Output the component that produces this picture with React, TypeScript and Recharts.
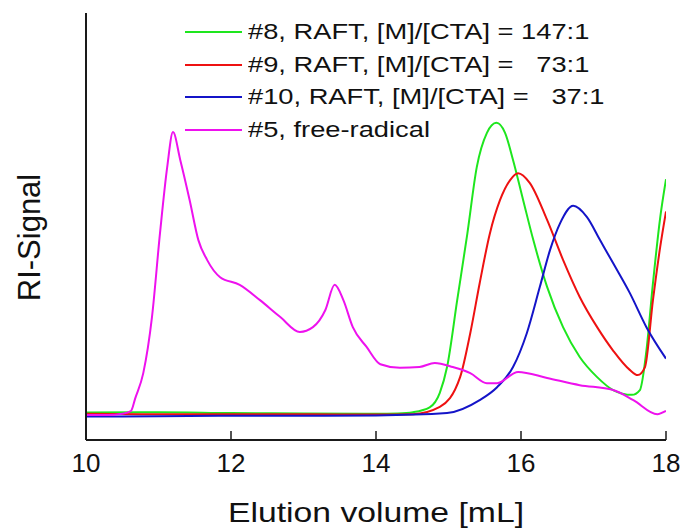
import React from "react";
import { LineChart, Line, XAxis, YAxis, Legend, Label } from "recharts";

type Pt = { x: number; v: number };
const mk = (xs: number[], vs: number[]): Pt[] => xs.map((x, i) => ({ x, v: vs[i] }));

const xTicks = [10, 12, 14, 16, 18];

const names = [
  "#8, RAFT, [M]/[CTA] = 147:1",
  "#9, RAFT, [M]/[CTA] =   73:1",
  "#10, RAFT, [M]/[CTA] =   37:1",
  "#5, free-radical",
];
const colors = ["#1ee61e", "#ee1111", "#1414c8", "#ee11ee"];

const greenX = [10, 11, 12, 13, 14, 14.3, 14.51, 14.74, 14.88, 14.98, 15.12, 15.26, 15.39, 15.53, 15.66, 15.78, 15.89, 16.03, 16.17, 16.36, 16.58, 16.81, 17.05, 17.27, 17.53, 17.64, 17.73, 17.82, 17.92, 18.0];
const greenV = [0.6, 0.7, 0.5, 0.4, 0.3, 0.4, 0.7, 1.9, 5.5, 11.9, 28.5, 45, 61.5, 70, 72.5, 70, 63.3, 53.3, 43.4, 31.8, 21.8, 14.4, 9.4, 6.2, 5, 6.2, 16, 32.7, 49, 58.5];

const redX = [10, 11, 12, 13, 14, 14.51, 14.88, 15.16, 15.3, 15.43, 15.57, 15.71, 15.85, 15.96, 16.12, 16.36, 16.58, 16.81, 17.05, 17.27, 17.5, 17.61, 17.71, 17.82, 17.92, 18.0];
const redV = [0.3, 0.2, 0.2, 0.2, 0.1, 0.2, 2, 9.4, 20.3, 32.7, 45, 53.3, 58.3, 60, 57.6, 48.4, 38.5, 29.3, 21.8, 16, 11.2, 9.9, 11.9, 28.5, 41.7, 50.5];

const blueX = [10, 11, 12, 13, 14, 14.98, 15.43, 15.67, 15.89, 16.08, 16.26, 16.4, 16.54, 16.72, 16.91, 17.09, 17.27, 17.5, 17.73, 18.0];
const blueV = [-0.4, -0.3, -0.2, -0.2, -0.1, 0.5, 3.7, 6.9, 11.9, 20.3, 31.8, 40.9, 47.6, 51.9, 49.1, 43.4, 37.7, 30.3, 21.8, 14];

const magX = [10, 10.3, 10.5, 10.62, 10.68, 10.79, 10.91, 11.02, 11.12, 11.2, 11.3, 11.43, 11.55, 11.67, 11.85, 12.12, 12.4, 12.68, 12.95, 13.13, 13.3, 13.43, 13.55, 13.68, 13.87, 14.06, 14.33, 14.6, 14.81, 15.06, 15.3, 15.53, 15.67, 15.96, 16.36, 16.81, 17.27, 17.55, 17.88, 18.0];
const magV = [0, 0, 0.3, 1.0, 4.2, 10.4, 24.3, 45, 61.5, 70.2, 63.3, 53.3, 43.4, 38.5, 34.2, 32.3, 28.5, 24.3, 20.6, 21.8, 26, 32.3, 28.5, 21.8, 16.9, 12.6, 11.7, 11.9, 12.9, 11.9, 10.4, 7.9, 7.9, 10.7, 9.2, 7.4, 6.2, 3.7, 0.2, 1.0];

const series = [mk(greenX, greenV), mk(redX, redV), mk(blueX, blueV), mk(magX, magV)];

const FONT = "'Liberation Sans', Arial, sans-serif";
const AX = "#1a1a1a";

const LegendContent = (props: any) => {
  const payload = [...(props.payload || [])].sort(
    (a: any, b: any) => names.indexOf(a.value) - names.indexOf(b.value)
  );
  return (
    <div style={{ fontFamily: FONT, fontSize: 22, color: "#111" }}>
      {payload.map((p: any, i: number) => (
        <div key={i} style={{ display: "flex", alignItems: "center", height: 32.5, whiteSpace: "pre" }}>
          <svg width={57} height={4} style={{ marginRight: 6 }}>
            <line x1={0} y1={2} x2={57} y2={2} stroke={p.color} strokeWidth={2} />
          </svg>
          <span style={{ display: "inline-block", transform: "scaleX(1.24)", transformOrigin: "left center" }}>{p.value}</span>
        </div>
      ))}
    </div>
  );
};

const XTitle = (props: any) => {
  const vb = props.viewBox || { x: 0, y: 0, width: 0, height: 0 };
  return (
    <text
      x={vb.x + vb.width / 2}
      y={vb.y + vb.height - 9}
      textAnchor="middle"
      textLength={296}
      lengthAdjust="spacingAndGlyphs"
      style={{ fill: "#111", fontSize: 28, fontFamily: FONT }}
    >
      {props.value}
    </text>
  );
};

export default function App() {
  return (
    <div style={{ position: "absolute", left: 0, top: 0, background: "#fff" }}>
      <LineChart width={683} height={531} margin={{ top: 13, right: 17, left: 0, bottom: 0 }}>
        <XAxis
          dataKey="x"
          type="number"
          domain={[10, 18]}
          ticks={xTicks}
          allowDataOverflow
          height={91}
          tickSize={-9}
          tickMargin={23}
          tickLine={{ stroke: AX, strokeWidth: 1.5 }}
          axisLine={{ stroke: AX, strokeWidth: 2 }}
          tick={{ fill: "#111", fontSize: 26, fontFamily: FONT }}
        >
          <Label value="Elution volume [mL]" position="insideBottom" content={<XTitle />} />
        </XAxis>
        <XAxis xAxisId="top" orientation="top" dataKey="x" type="number" domain={[10, 18]} height={0} tick={false} tickLine={false} axisLine={{ stroke: AX, strokeWidth: 2 }} />
        <YAxis
          type="number"
          domain={[-6.2, 99.75]}
          allowDataOverflow
          width={86}
          tick={false}
          tickLine={false}
          axisLine={{ stroke: AX, strokeWidth: 2 }}
        >
          <Label value="RI-Signal" angle={-90} position="center" dx={-14} dy={11} style={{ fill: "#111", fontSize: 31, fontFamily: FONT }} />
        </YAxis>
        <YAxis yAxisId="right" orientation="right" type="number" domain={[-6.2, 99.75]} width={0} tick={false} tickLine={false} axisLine={{ stroke: AX, strokeWidth: 2 }} />
        <Legend
          layout="vertical"
          verticalAlign="middle"
          align="center"
          content={<LegendContent />}
          wrapperStyle={{ position: "absolute", top: 16, left: 185, width: 470 }}
        />
        {series.map((d, i) => (
          <Line
            key={i}
            data={d}
            dataKey="v"
            name={names[i]}
            type="monotone"
            stroke={colors[i]}
            strokeWidth={2}
            dot={false}
            activeDot={false}
            isAnimationActive={false}
          />
        ))}
      </LineChart>
    </div>
  );
}
